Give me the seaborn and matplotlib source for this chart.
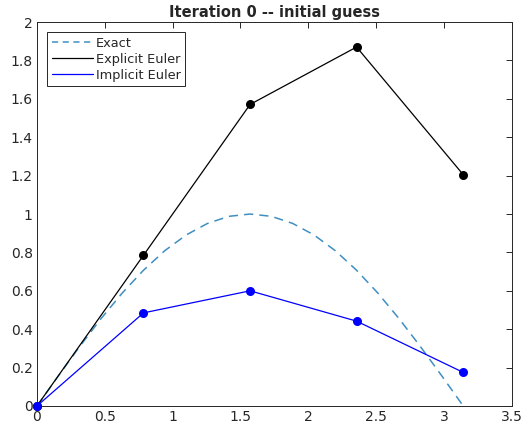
import numpy as np
import pandas as pd
import matplotlib
matplotlib.use("Agg")
import matplotlib.pyplot as plt
from matplotlib.lines import Line2D
import seaborn as sns

# Exact solution sampled along [0, pi]
exact_x = [0.0, 0.157, 0.314, 0.471, 0.628, 0.785, 0.942, 1.100, 1.257, 1.414,
           1.571, 1.728, 1.885, 2.042, 2.199, 2.356, 2.513, 2.670, 2.827, 2.985, 3.142]
exact_y = [0.0, 0.156, 0.309, 0.454, 0.588, 0.707, 0.809, 0.891, 0.951, 0.988,
           1.0, 0.988, 0.951, 0.891, 0.809, 0.707, 0.588, 0.454, 0.309, 0.156, 0.0]

# Time-stepping grid and iterates
grid_x = [0.0, 0.785, 1.571, 2.356, 3.142]
explicit_y = [0.0, 0.785, 1.571, 1.870, 1.205]
implicit_y = [0.0, 0.485, 0.600, 0.442, 0.175]

x_ticks = [0, 0.5, 1, 1.5, 2, 2.5, 3, 3.5]
y_ticks = [0, 0.2, 0.4, 0.6, 0.8, 1, 1.2, 1.4, 1.6, 1.8, 2]

sns.set_style("white")
plt.rcParams["font.family"] = ["DejaVu Sans"]

fig = plt.figure(figsize=(5.32, 4.33), dpi=100)
ax = fig.add_axes([0.0695, 0.0624, 0.8925, 0.8866])

exact_df = pd.DataFrame({"x": exact_x, "y": exact_y})
exp_df = pd.DataFrame({"x": grid_x, "y": explicit_y})
imp_df = pd.DataFrame({"x": grid_x, "y": implicit_y})

exact_color = "#3f8fc2"
sns.lineplot(data=exact_df, x="x", y="y", ax=ax, color=exact_color, lw=1.1,
             linestyle=(0, (6, 4)), sort=False, legend=False)
sns.lineplot(data=exp_df, x="x", y="y", ax=ax, color="black", lw=0.9,
             marker="o", markersize=6.5, markeredgewidth=0,
             sort=False, legend=False, clip_on=False, zorder=3)
sns.lineplot(data=imp_df, x="x", y="y", ax=ax, color="#0000ff", lw=0.9,
             marker="o", markersize=6.5, markeredgewidth=0,
             sort=False, legend=False, clip_on=False, zorder=4)

ax.set_xlim(0, 3.5)
ax.set_ylim(0, 2)
ax.set_xticks(x_ticks)
ax.set_xticklabels([f"{t:g}" for t in x_ticks])
ax.set_yticks(y_ticks)
ax.set_yticklabels([f"{t:g}" for t in y_ticks])
ax.set_xlabel("")
ax.set_ylabel("")
ax.tick_params(direction="in", length=4, width=0.7, colors="#262626",
               labelsize=10, top=True, right=True, pad=3)
for sp in ax.spines.values():
    sp.set_visible(True)
    sp.set_color("#262626")
    sp.set_linewidth(0.7)

ax.set_title("Iteration 0 -- initial guess", fontsize=10.5, fontweight="bold", pad=4)

# legend with line samples only
handles = [
    Line2D([], [], color=exact_color, lw=1.1, linestyle=(0, (4, 3))),
    Line2D([], [], color="black", lw=0.9),
    Line2D([], [], color="#0000ff", lw=0.9),
]
labels = ["Exact", "Explicit Euler", "Implicit Euler"]
leg = ax.legend(handles, labels, loc="upper left", fontsize=9.3, frameon=True,
                fancybox=False, edgecolor="#262626", framealpha=1,
                borderpad=0.35, labelspacing=0.22, handlelength=3.2,
                handletextpad=0.2, borderaxespad=0.8)
leg.get_frame().set_linewidth(0.7)

fig.savefig("out.png", dpi=100)
